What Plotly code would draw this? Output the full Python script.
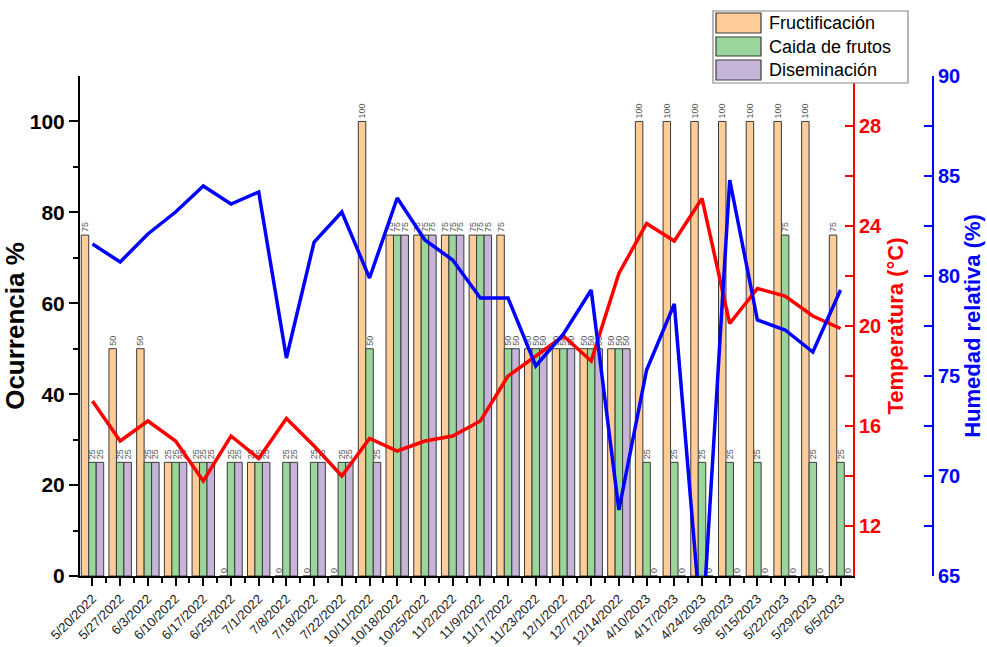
import plotly.graph_objects as go

# Sampling dates
fechas = ["5/20/2022", "5/27/2022", "6/3/2022", "6/10/2022", "6/17/2022", "6/25/2022",
          "7/1/2022", "7/8/2022", "7/18/2022", "7/22/2022", "10/11/2022", "10/18/2022",
          "10/25/2022", "11/2/2022", "11/9/2022", "11/17/2022", "11/23/2022", "12/1/2022",
          "12/7/2022", "12/14/2022", "4/10/2023", "4/17/2023", "4/24/2023", "5/8/2023",
          "5/15/2023", "5/22/2023", "5/29/2023", "6/5/2023"]

# Phenological occurrence (%)
fructificacion = [75, 50, 50, 25, 25, 0, 25, 0, 0, 0, 100, 75, 75, 75, 75, 75, 50, 50,
                  50, 50, 100, 100, 100, 100, 100, 100, 100, 75]
caida_frutos = [25, 25, 25, 25, 25, 25, 25, 25, 25, 25, 50, 75, 75, 75, 75, 50, 50, 50,
                50, 50, 25, 25, 25, 25, 25, 75, 25, 25]
diseminacion = [25, 25, 25, 25, 25, 25, 25, 25, 25, 25, 25, 75, 75, 75, 75, 50, 50, 50,
                50, 50, 0, 0, 0, 0, 0, 0, 0, 0]

# Climate variables
temperatura = [17.0, 15.4, 16.2, 15.4, 13.8, 15.6, 14.7, 16.3, 15.2, 14.0, 15.5, 15.0,
               15.4, 15.6, 16.2, 18.0, 18.8, 19.6, 18.6, 22.1, 24.1, 23.4, 25.1, 20.1,
               21.5, 21.2, 20.4, 19.9]
humedad = [81.6, 80.7, 82.1, 83.2, 84.5, 83.6, 84.2, 75.9, 81.7, 83.2, 79.9, 83.9,
           81.8, 80.8, 78.9, 78.9, 75.5, 77.1, 79.3, 68.3, 75.3, 78.6, 62.0, 84.8,
           77.8, 77.3, 76.2, 79.3]

idx = list(range(len(fechas)))
FONT = "Liberation Sans, Arial, sans-serif"

# Pixel -> paper helpers for the hand-drawn legend
L, R, T, B = 80, 933, 76, 576
def px(x):
    return (x - L) / (R - L)
def py(y):
    return (B - y) / (B - T)

fig = go.Figure()

series = [("Fructificación", fructificacion, "#FECC96"),
          ("Caida de frutos", caida_frutos, "#9AD69B"),
          ("Diseminación", diseminacion, "#C6B5D9")]

for name, vals, color in series:
    fig.add_trace(go.Bar(
        x=idx, y=vals, name=name,
        marker=dict(color=color, line=dict(color="#3a3a3a", width=1)),
        text=[str(v) for v in vals], textposition="outside", textangle=-90,
        textfont=dict(size=9, color="#555555", family=FONT),
        constraintext="none", cliponaxis=False, showlegend=False,
    ))

fig.add_trace(go.Scatter(x=idx, y=temperatura, yaxis="y2", mode="lines",
                         line=dict(color="#FF0000", width=3.5), showlegend=False))
fig.add_trace(go.Scatter(x=idx, y=humedad, yaxis="y3", mode="lines",
                         line=dict(color="#0000FF", width=3.5), showlegend=False))

fig.update_layout(
    width=987, height=647,
    margin=dict(l=L, r=987 - R, t=T, b=647 - B),
    paper_bgcolor="white", plot_bgcolor="white",
    font=dict(family=FONT, color="black"),
    barmode="group", bargap=0.19, bargroupgap=0,
    xaxis=dict(
        domain=[0, (853 - L) / (R - L)],
        range=[-0.45, len(fechas) - 0.55],
        tickmode="array", tickvals=idx, ticktext=fechas, tickangle=-45,
        tickfont=dict(size=13, color="#222222"),
        ticks="outside", ticklen=8, tickwidth=1.5, tickcolor="black",
        minor=dict(tickmode="array", tickvals=[i + 0.5 for i in idx[:-1]],
                   ticks="outside", ticklen=5, tickwidth=1.5, tickcolor="black"),
        showline=True, linecolor="black", linewidth=2,
        showgrid=False, zeroline=False, automargin=False,
    ),
    yaxis=dict(
        range=[0, 110], tickvals=[0, 20, 40, 60, 80, 100],
        tickfont=dict(size=21, color="black", weight="bold"),
        ticks="outside", ticklen=9, tickwidth=1.5, tickcolor="black",
        minor=dict(tickmode="array", tickvals=[10, 30, 50, 70, 90],
                   ticks="outside", ticklen=5, tickwidth=1.5, tickcolor="black"),
        showline=True, linecolor="black", linewidth=2,
        showgrid=False, zeroline=False, automargin=False,
        title=dict(text="Ocurrencia %", font=dict(size=26, color="black", weight="bold"),
                   standoff=4),
    ),
    yaxis2=dict(
        overlaying="y", anchor="x", side="right",
        range=[10, 30], tickvals=[12, 16, 20, 24, 28],
        tickfont=dict(size=20, color="#FF0000", weight="bold"),
        ticks="inside", ticklen=8, tickwidth=1.5, tickcolor="#FF0000",
        minor=dict(tickmode="array", tickvals=[14, 18, 22, 26],
                   ticks="inside", ticklen=8, tickwidth=1.5, tickcolor="#FF0000"),
        showline=True, linecolor="#FF0000", linewidth=2,
        showgrid=False, zeroline=False, automargin=False,
        title=dict(text="Temperatura (°C)", font=dict(size=22, color="#FF0000", weight="bold"),
                   standoff=6),
    ),
    yaxis3=dict(
        overlaying="y", anchor="free", position=1.0, side="right",
        range=[65, 90], tickvals=[65, 70, 75, 80, 85, 90],
        tickfont=dict(size=20, color="#0000FF", weight="bold"),
        ticks="inside", ticklen=8, tickwidth=1.5, tickcolor="#0000FF",
        minor=dict(tickmode="array", tickvals=[67.5, 72.5, 77.5, 82.5, 87.5],
                   ticks="inside", ticklen=8, tickwidth=1.5, tickcolor="#0000FF"),
        showline=True, linecolor="#0000FF", linewidth=2,
        showgrid=False, zeroline=False, automargin=False,
        title=dict(text="Humedad relativa (%)", font=dict(size=22, color="#0000FF", weight="bold"),
                   standoff=4),
    ),
)

# Legend box with swatches
shapes = [dict(type="rect", xref="paper", yref="paper",
               x0=px(713), x1=px(908), y0=py(83), y1=py(11),
               line=dict(color="#888888", width=1.2), fillcolor="white", layer="above")]
annotations = []
rows = [(13, 33), (37, 56), (60, 80)]
for (name, _, color), (top, bot) in zip(series, rows):
    shapes.append(dict(type="rect", xref="paper", yref="paper",
                       x0=px(716), x1=px(761), y0=py(bot), y1=py(top),
                       line=dict(color="#3a3a3a", width=1.2), fillcolor=color, layer="above"))
    annotations.append(dict(xref="paper", yref="paper", x=px(767), y=py((top + bot) / 2),
                            text=name, showarrow=False, xanchor="left", yanchor="middle",
                            font=dict(size=18, color="black", family=FONT)))
fig.update_layout(shapes=shapes, annotations=annotations)

fig.write_html("out.html")
